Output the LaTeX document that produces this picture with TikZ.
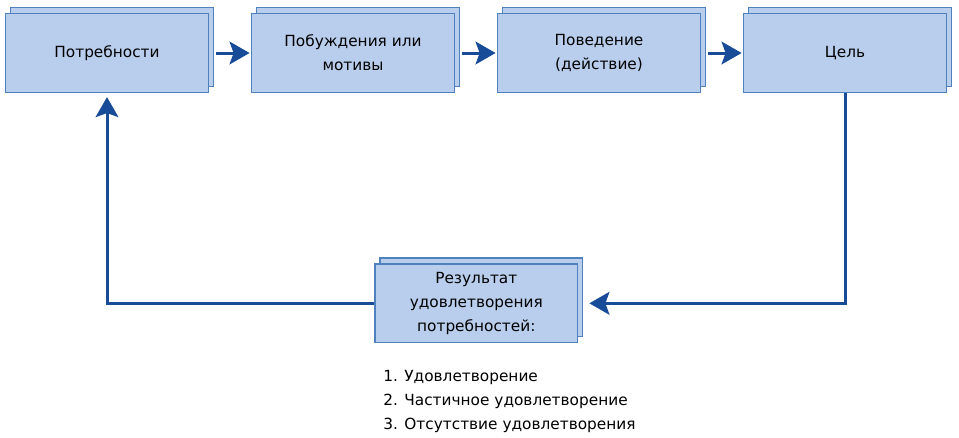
\documentclass[tikz,border=0pt]{standalone}
\usepackage{fontspec}
\setmainfont{DejaVu Sans}
\usetikzlibrary{arrows.meta,shadows}
\definecolor{boxfill}{RGB}{185,205,236}
\definecolor{boxline}{RGB}{79,129,189}
\definecolor{arrowblue}{RGB}{24,76,152}
\begin{document}
\begin{tikzpicture}[x=0.75pt,y=-0.75pt,
	block/.style={draw=boxline,fill=boxfill,line width=1.1pt,minimum width=152pt,minimum height=59pt,align=center,font=\fontsize{11.5}{18}\selectfont,copy shadow={shadow xshift=3.75pt,shadow yshift=4.5pt}},
	link/.style={draw=arrowblue,line width=2.25pt,-{Stealth[length=15pt,width=17pt,inset=3pt]}}]
					\useasboundingbox (0,0) rectangle (959,437);
					\node[block] (needs) at (107,53) {Потребности};
					\node[block] (motives) at (353,53) {Побуждения или\\мотивы};
					\node[block] (action) at (599,53) {Поведение\\(действие)};
					\node[block] (goal) at (845,53) {Цель};
					\node[block] (result) at (476.3,303.3) {Результат\\удовлетворения\\потребностей:};
					
					\draw[link,shorten <=5.25pt,shorten >=1pt] (needs.east) -- (motives.west);
					\draw[link,shorten <=5.25pt,shorten >=1pt] (motives.east) -- (action.west);
					\draw[link,shorten <=5.25pt,shorten >=1pt] (action.east) -- (goal.west);
					\draw[link,shorten >=8.25pt] (goal.south) |- (result.east);
					\draw[link,shorten >=3pt] (result.west) -| (needs.south);
					
					\node[anchor=base west,align=left,inner sep=0pt,font=\fontsize{11.5}{17.8}\selectfont] (outcomes) at (383,429.3) {1. Удовлетворение\\2. Частичное удовлетворение\\3. Отсутствие удовлетворения};
				\end{tikzpicture}
\end{document}
